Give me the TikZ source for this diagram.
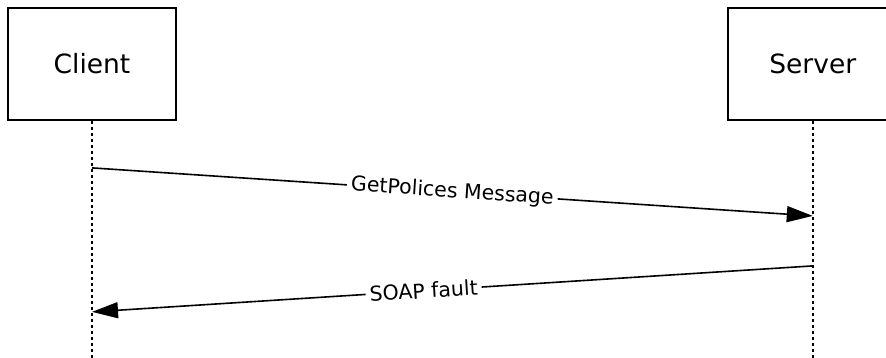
\documentclass[tikz,border=0pt]{standalone}
\usepackage{fontspec}
\setmainfont{DejaVu Sans}
\usetikzlibrary{positioning,arrows.meta}

\tikzset{
  actor/.style={draw,rectangle,line width=1.8pt,minimum width=168pt,minimum height=112pt,inner sep=0pt,font=\fontsize{26.5}{30}\selectfont},
  lifeline/.style={line width=1.8pt,dash pattern=on 3pt off 3pt},
  msg/.style={->,line width=1.6pt},
  msglabel/.style={fill=white,inner sep=4pt,sloped,font=\fontsize{20.5}{24}\selectfont}
}

\begin{document}
\begin{tikzpicture}[>={Triangle[length=26pt,width=16pt]},node distance=550pt]
			\useasboundingbox (-92pt,-294pt) rectangle (794pt,64pt);
			\node[actor] (client) {Client};
			\node[actor,minimum width=170pt] (server) [right=of client] {Server};

			\coordinate[below=47pt of client.south] (c1);
			\coordinate[below=95pt of server.south] (s1);
			\coordinate[below=145pt of server.south] (s2);
			\coordinate[below=191pt of client.south] (c2);
			\coordinate[below=240pt of client.south] (cend);
			\coordinate[below=240pt of server.south] (send);

			\draw[lifeline] (client.south) -- (cend);
			\draw[lifeline] (server.south) -- (send);

			\draw[msg] (c1) -- node[msglabel]{GetPolices Message} (s1);
			\draw[msg] (s2) -- node[msglabel,pos=0.54]{SOAP fault} (c2);
\end{tikzpicture}
\end{document}
